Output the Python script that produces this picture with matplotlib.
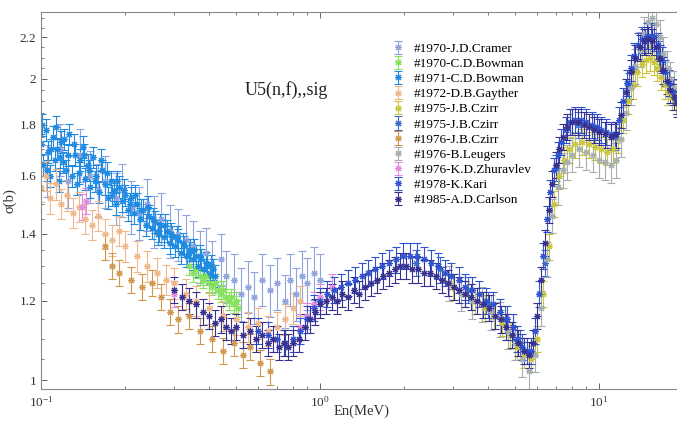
import matplotlib
matplotlib.use("Agg")
import matplotlib.pyplot as plt
import numpy as np
from matplotlib.ticker import FixedLocator, FixedFormatter, LogLocator, NullFormatter, LogFormatterMathtext

plt.rcParams["font.family"] = ["Liberation Serif", "DejaVu Serif"]
plt.rcParams["mathtext.fontset"] = "stix"

# ---- data: energy (MeV) and cross section (b) ----
cramer_e = [0.105, 0.117, 0.125, 0.138, 0.150, 0.160, 0.170, 0.185, 0.195, 0.210, 0.225, 0.240,
            0.255, 0.270, 0.290, 0.310, 0.330, 0.350, 0.370, 0.390, 0.410, 0.440, 0.460, 0.490,
            0.520, 0.550, 0.580, 0.620, 0.660, 0.700, 0.750, 0.780, 0.820, 0.860, 0.900, 0.950, 1.00]
cramer_s = [1.62, 1.70, 1.58, 1.68, 1.60, 1.55, 1.58, 1.52, 1.55, 1.49, 1.47, 1.50,
            1.44, 1.45, 1.41, 1.40, 1.38, 1.36, 1.33, 1.34, 1.30, 1.32, 1.27, 1.26,
            1.22, 1.24, 1.21, 1.26, 1.23, 1.25, 1.20, 1.26, 1.22, 1.27, 1.25, 1.28, 1.26]

bowman70_e = [0.340, 0.350, 0.360, 0.370, 0.380, 0.390, 0.400, 0.410, 0.420, 0.430, 0.440,
              0.450, 0.460, 0.470, 0.480, 0.490, 0.500, 0.510]
bowman70_s = [1.30, 1.28, 1.29, 1.27, 1.26, 1.27, 1.25, 1.24, 1.25, 1.23, 1.22,
              1.23, 1.21, 1.20, 1.21, 1.19, 1.20, 1.18]

bowman71_e = [0.100, 0.102, 0.104, 0.106, 0.108, 0.110, 0.112, 0.114, 0.116, 0.118, 0.120, 0.123,
              0.126, 0.129, 0.132, 0.135, 0.138, 0.141, 0.144, 0.147, 0.150, 0.154, 0.158, 0.162,
              0.166, 0.170, 0.174, 0.178, 0.182, 0.186, 0.190, 0.195, 0.200, 0.205, 0.210, 0.215,
              0.220, 0.226, 0.232, 0.238, 0.244, 0.250, 0.256, 0.262, 0.268, 0.275, 0.282, 0.289,
              0.296, 0.303, 0.310, 0.318, 0.326, 0.334, 0.342, 0.350, 0.358, 0.366, 0.375, 0.384,
              0.393, 0.402, 0.412, 0.422,
              0.101, 0.105, 0.109, 0.113, 0.117, 0.121, 0.125, 0.131, 0.137, 0.143, 0.149, 0.156,
              0.164, 0.172, 0.180, 0.188, 0.198, 0.208, 0.218, 0.229, 0.241, 0.253, 0.265, 0.279,
              0.293, 0.307, 0.322, 0.338, 0.354, 0.371, 0.389, 0.407]
bowman71_s = [1.72, 1.64, 1.78, 1.69, 1.60, 1.75, 1.66, 1.70, 1.58, 1.73, 1.65, 1.62,
              1.76, 1.60, 1.68, 1.57, 1.66, 1.71, 1.59, 1.64, 1.56, 1.67, 1.60, 1.54,
              1.62, 1.57, 1.52, 1.58, 1.55, 1.50, 1.56, 1.51, 1.53, 1.48, 1.52, 1.47,
              1.50, 1.45, 1.48, 1.43, 1.46, 1.42, 1.44, 1.40, 1.43, 1.39, 1.41, 1.37,
              1.39, 1.36, 1.38, 1.34, 1.36, 1.33, 1.35, 1.32, 1.33, 1.30, 1.32, 1.29,
              1.30, 1.28, 1.29, 1.27,
              1.80, 1.62, 1.70, 1.79, 1.67, 1.74, 1.68, 1.72, 1.61, 1.68, 1.62, 1.58,
              1.66, 1.61, 1.53, 1.58, 1.55, 1.50, 1.53, 1.48, 1.49, 1.45, 1.41, 1.43,
              1.40, 1.39, 1.37, 1.34, 1.35, 1.33, 1.31, 1.30]

gayther_e = [0.100, 0.104, 0.108, 0.113, 0.118, 0.124, 0.130, 0.137, 0.144, 0.152, 0.160, 0.170,
             0.180, 0.190, 0.200, 0.220, 0.240, 0.260, 0.280, 0.300, 0.330, 0.360, 0.400, 0.450,
             0.500, 0.550, 0.600, 0.650, 0.700, 0.750, 0.800, 0.850]
gayther_s = [1.56, 1.60, 1.52, 1.57, 1.50, 1.53, 1.47, 1.49, 1.45, 1.43, 1.46, 1.40,
             1.38, 1.41, 1.36, 1.33, 1.30, 1.28, 1.26, 1.25, 1.22, 1.20, 1.18, 1.16,
             1.15, 1.13, 1.14, 1.12, 1.13, 1.15, 1.18, 1.20]

czirr75_e = [3.0, 3.3, 3.6, 3.9, 4.2, 4.5, 4.8, 5.1, 5.4, 5.7, 6.0, 6.3, 6.6, 6.9, 7.2, 7.5,
             7.8, 8.2, 8.7, 9.2, 9.7, 10.2, 10.7, 11.2, 11.7, 12.2, 12.7, 13.2, 13.7, 14.2,
             14.7, 15.2, 15.7, 16.2, 16.7, 17.2, 17.7, 18.2, 18.8]
czirr75_s = [1.24, 1.22, 1.20, 1.18, 1.16, 1.14, 1.11, 1.08, 1.06, 1.05, 1.10, 1.22, 1.36, 1.50,
             1.60, 1.66, 1.70, 1.72, 1.73, 1.72, 1.71, 1.70, 1.69, 1.70, 1.74, 1.82, 1.90, 1.97,
             2.03, 2.07, 2.09, 2.10, 2.08, 2.05, 2.01, 1.97, 1.94, 1.92, 1.90]

czirr75b_e = [2.2, 2.7, 3.4, 4.0, 4.6, 5.2, 6.4, 7.0, 8.4, 9.6, 11.4, 12.8, 14.6, 16.4]
czirr75b_s = [1.31, 1.29, 1.23, 1.19, 1.15, 1.09, 1.31, 1.63, 1.80, 1.79, 1.75, 1.97, 2.18, 2.12]

czirr76_e = [0.170, 0.180, 0.190, 0.210, 0.230, 0.250, 0.270, 0.290, 0.310, 0.340, 0.370, 0.410,
             0.450, 0.490, 0.530, 0.560, 0.610, 0.660]
czirr76_s = [1.36, 1.30, 1.28, 1.26, 1.24, 1.25, 1.21, 1.17, 1.15, 1.16, 1.12, 1.10,
             1.07, 1.09, 1.06, 1.08, 1.04, 1.02]

leugers_e = [2.9, 3.2, 3.5, 3.8, 4.1, 4.4, 4.7, 5.0, 5.3, 5.6, 5.9, 6.2, 6.5, 6.8, 7.1, 7.4,
             7.7, 8.0, 8.5, 9.0, 9.5, 10.0, 10.5, 11.0, 11.5, 12.0, 12.5, 13.0, 13.5, 14.0,
             14.5, 15.0, 15.5, 16.0, 16.5, 17.0, 17.5, 18.0, 18.5, 19.0]
leugers_s = [1.25, 1.22, 1.20, 1.19, 1.17, 1.15, 1.12, 1.09, 1.05, 1.02, 1.06, 1.18, 1.32, 1.46,
             1.56, 1.62, 1.65, 1.68, 1.70, 1.69, 1.68, 1.66, 1.65, 1.64, 1.66, 1.74, 1.85, 1.96,
             2.06, 2.14, 2.22, 2.28, 2.30, 2.27, 2.20, 2.12, 2.05, 2.00, 1.96, 1.92]

zhuravlev_e = [0.140, 0.145, 0.300, 0.850, 0.900, 0.950, 1.00, 1.10]
zhuravlev_s = [1.49, 1.51, 1.22, 1.13, 1.16, 1.19, 1.21, 1.24]

kari_e = [0.60, 0.65, 0.70, 0.75, 0.80, 0.85, 0.90, 0.95, 1.00, 1.06, 1.12, 1.19, 1.26, 1.33,
          1.41, 1.49, 1.58, 1.67, 1.77, 1.87, 1.98, 2.10, 2.22, 2.35, 2.49, 2.64, 2.80, 2.96,
          3.14, 3.32, 3.52, 3.72, 3.94, 4.17, 4.42, 4.68, 4.90, 5.10, 5.30, 5.50, 5.70, 5.90,
          6.10, 6.30, 6.50, 6.70, 6.90, 7.10, 7.30, 7.60, 7.90, 8.20, 8.60, 9.00, 9.40, 9.80,
          10.2, 10.6, 11.0, 11.4, 11.8, 12.2, 12.6, 13.0, 13.4, 13.8, 14.3, 14.8, 15.3, 15.8,
          16.3, 16.8, 17.3, 17.8, 18.4, 19.0]
kari_s = [1.12, 1.11, 1.10, 1.09, 1.10, 1.12, 1.15, 1.18, 1.20, 1.22, 1.23, 1.24, 1.25, 1.26,
          1.27, 1.28, 1.29, 1.30, 1.31, 1.32, 1.33, 1.33, 1.33, 1.32, 1.31, 1.30, 1.28, 1.27,
          1.26, 1.24, 1.23, 1.22, 1.20, 1.19, 1.17, 1.15, 1.13, 1.10, 1.08, 1.07, 1.07, 1.12,
          1.22, 1.33, 1.45, 1.54, 1.62, 1.68, 1.73, 1.78, 1.81, 1.82, 1.82, 1.81, 1.80, 1.79,
          1.78, 1.77, 1.76, 1.76, 1.82, 1.90, 1.98, 2.05, 2.11, 2.16, 2.19, 2.21, 2.21, 2.20,
          2.16, 2.09, 2.03, 1.98, 1.94, 1.90]

carlson_e = [0.30, 0.32, 0.34, 0.36, 0.38, 0.40, 0.42, 0.44, 0.46, 0.48, 0.50, 0.53, 0.56, 0.59,
             0.62, 0.65, 0.68, 0.71, 0.74, 0.77, 0.80, 0.84, 0.88, 0.92, 0.96, 1.00, 1.05, 1.10,
             1.15, 1.20, 1.26, 1.32, 1.38, 1.45, 1.52, 1.60, 1.68, 1.76, 1.85, 1.94, 2.04, 2.14,
             2.25, 2.36, 2.48, 2.60, 2.73, 2.87, 3.01, 3.16, 3.32, 3.49, 3.66, 3.84, 4.03, 4.23,
             4.44, 4.66, 4.89, 5.13, 5.38, 5.60, 5.80, 6.00, 6.20, 6.40, 6.60, 6.80, 7.00, 7.20,
             7.45, 7.70, 8.00, 8.40, 8.80, 9.20, 9.60, 10.0, 10.5, 11.0, 11.5, 12.0, 12.5, 13.0,
             13.5, 14.0, 14.5, 15.0, 15.5, 16.0, 16.5, 17.0, 17.5, 18.0, 18.5, 19.0]
carlson_s = [1.23, 1.21, 1.20, 1.19, 1.17, 1.16, 1.14, 1.15, 1.13, 1.12, 1.13, 1.11, 1.12, 1.10,
             1.11, 1.09, 1.10, 1.08, 1.09, 1.08, 1.09, 1.10, 1.13, 1.15, 1.17, 1.19, 1.20, 1.21,
             1.20, 1.22, 1.21, 1.23, 1.22, 1.24, 1.25, 1.26, 1.27, 1.28, 1.29, 1.30, 1.30, 1.29,
             1.29, 1.28, 1.28, 1.27, 1.26, 1.25, 1.24, 1.23, 1.22, 1.21, 1.20, 1.19, 1.18, 1.16,
             1.15, 1.13, 1.11, 1.09, 1.07, 1.06, 1.09, 1.16, 1.26, 1.37, 1.48, 1.57, 1.64, 1.70,
             1.75, 1.79, 1.81, 1.81, 1.80, 1.79, 1.78, 1.77, 1.76, 1.75, 1.76, 1.84, 1.94, 2.03,
             2.10, 2.15, 2.18, 2.19, 2.18, 2.15, 2.10, 2.04, 1.99, 1.95, 1.92, 1.89]

labels = ["#1970-J.D.Cramer", "#1970-C.D.Bowman", "#1971-C.D.Bowman", "#1972-D.B.Gayther",
          "#1975-J.B.Czirr", "#1975-J.B.Czirr", "#1976-J.B.Czirr", "#1976-B.Leugers",
          "#1976-K.D.Zhuravlev", "#1978-K.Kari", "#1985-A.D.Carlson"]
energies = [cramer_e, bowman70_e, bowman71_e, gayther_e, czirr75_e, czirr75b_e, czirr76_e,
            leugers_e, zhuravlev_e, kari_e, carlson_e]
sigmas = [cramer_s, bowman70_s, bowman71_s, gayther_s, czirr75_s, czirr75b_s, czirr76_s,
          leugers_s, zhuravlev_s, kari_s, carlson_s]
rel_err = [0.06, 0.02, 0.025, 0.035, 0.03, 0.03, 0.03, 0.04, 0.03, 0.03, 0.03]

colors = ["#8fa3dc", "#86e25c", "#1e8ae0", "#f0b88a", "#c9c63c", "#3a6cc8", "#d2974e",
          "#a6aeae", "#e08ae0", "#2f52d0", "#37308f"]

fig = plt.figure(figsize=(6.77, 4.24), dpi=100)
ax = fig.add_axes([41 / 677, 1 - 389 / 424, 642 / 677, 377 / 424])

asterisk = (8, 2, 0)
for lab, e, s, r, c in zip(labels, energies, sigmas, rel_err, colors):
    s = np.asarray(s)
    ax.errorbar(e, s, yerr=s * r, marker=asterisk, linestyle="none", ms=5, mew=0.8,
                color=c, ecolor=c, elinewidth=0.8, capsize=3, capthick=0.8, label=lab)

ax.set_xscale("log")
ax.set_yscale("log")
ax.set_xlim(0.1, 20)
ax.set_ylim(0.9795, 2.333)

yt = [1, 1.2, 1.4, 1.6, 1.8, 2, 2.2]
ax.yaxis.set_major_locator(FixedLocator(yt))
ax.yaxis.set_major_formatter(FixedFormatter(["1", "1.2", "1.4", "1.6", "1.8", "2", "2.2"]))
minor_y = [v for v in np.round(np.arange(1.0, 2.35, 0.05), 2) if v not in yt]
ax.yaxis.set_minor_locator(FixedLocator(minor_y))
ax.yaxis.set_minor_formatter(NullFormatter())
ax.xaxis.set_major_locator(LogLocator(base=10))
ax.xaxis.set_major_formatter(LogFormatterMathtext())
ax.xaxis.set_minor_locator(LogLocator(base=10, subs=np.arange(2, 10)))
ax.xaxis.set_minor_formatter(NullFormatter())

ax.tick_params(which="both", direction="in", top=True, right=True, colors="#666666",
               labelcolor="#333333", labelsize=9.5)
ax.tick_params(which="major", length=4, width=0.7)
ax.tick_params(which="minor", length=2.5, width=0.6)
ax.tick_params(axis="x", pad=4)
for sp in ax.spines.values():
    sp.set_color("#888888")
    sp.set_linewidth(0.8)

ax.set_xlabel("En(MeV)", fontsize=10.5, color="#333333", labelpad=-3)
ax.set_ylabel("σ(b)", fontsize=10.5, color="#333333", labelpad=2)

fig.text(286 / 677, 1 - 90 / 424, "U5(n,f),,sig", fontsize=13, ha="center", va="center",
         color="#222222")

ax.legend(loc="upper left", bbox_to_anchor=(383 / 677, 1 - 36 / 424),
          bbox_transform=fig.transFigure, frameon=False, fontsize=9.5,
          handlelength=1.2, handletextpad=0.6, labelspacing=0.22, borderpad=0)

fig.savefig("out.png", dpi=100)
